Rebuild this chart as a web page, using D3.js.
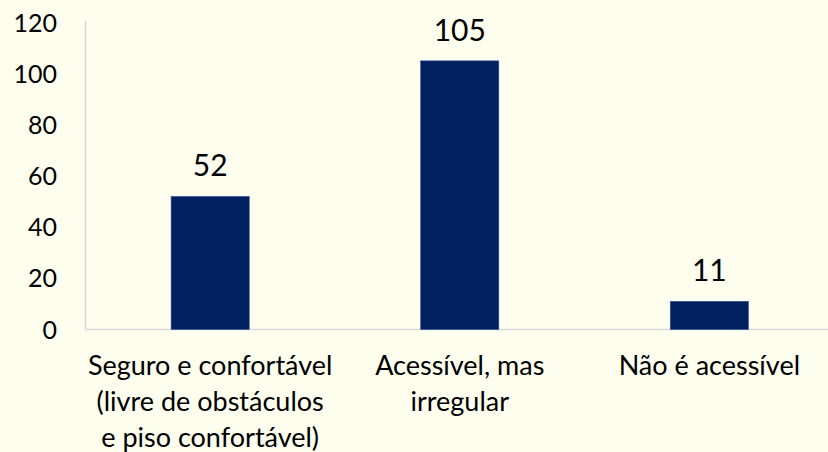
<!DOCTYPE html>
<html>
<head>
<meta charset="utf-8">
<script src="https://cdn.jsdelivr.net/npm/d3@7/dist/d3.min.js"></script>
<style>
  html, body { margin: 0; padding: 0; background: #fefeee; }
  svg { display: block; font-family: Lato, "Open Sans", sans-serif; }
</style>
</head>
<body>
<svg id="chart" width="828" height="452"></svg>
<script>
// chart data
var categories = [
  ["Seguro e confortável", "(livre de obstáculos", "e piso confortável)"],
  ["Acessível, mas", "irregular"],
  ["Não é acessível"]
];
var values = [52, 105, 11];
var yTicks = [0, 20, 40, 60, 80, 100, 120];

var svg = d3.select('#chart');
var width = 828, height = 452;

var x = d3.scaleBand()
  .domain(d3.range(values.length))
  .range([85.5, 834])
  .paddingInner(0.687)
  .paddingOuter(0.343);

var y = d3.scaleLinear()
  .domain([0, 120])
  .range([329.5, 22.5]);

svg.append('rect')
  .attr('width', width)
  .attr('height', height)
  .attr('fill', '#fefeee');

// axis lines
svg.append('line')
  .attr('x1', 85.5).attr('x2', 85.5)
  .attr('y1', 20.5).attr('y2', y(0))
  .attr('stroke', '#d9d9d9')
  .attr('stroke-width', 1.5);

svg.append('line')
  .attr('x1', 85.5).attr('x2', width)
  .attr('y1', y(0)).attr('y2', y(0))
  .attr('stroke', '#d9d9d9')
  .attr('stroke-width', 1.5);

// y tick labels
svg.append('g')
  .selectAll('text')
  .data(yTicks)
  .enter()
  .append('text')
  .attr('x', 57)
  .attr('y', d => y(d))
  .attr('dy', '0.36em')
  .attr('text-anchor', 'end')
  .attr('font-size', 25)
  .attr('fill', '#000')
  .text(d => d);

// bars
svg.append('g')
  .selectAll('rect')
  .data(values)
  .enter()
  .append('rect')
  .attr('x', (d, i) => x(i))
  .attr('width', x.bandwidth())
  .attr('y', d => y(d))
  .attr('height', d => y(0) - y(d))
  .attr('fill', '#002060')
  .attr('stroke', '#2f4f8f')
  .attr('stroke-width', 0.6);

// data labels
svg.append('g')
  .selectAll('text')
  .data(values)
  .enter()
  .append('text')
  .attr('x', (d, i) => x(i) + x.bandwidth() / 2)
  .attr('y', d => y(d) - 20)
  .attr('text-anchor', 'middle')
  .attr('font-size', 30)
  .attr('fill', '#000')
  .text(d => d);

// category labels
var cat = svg.append('g')
  .selectAll('text')
  .data(categories)
  .enter()
  .append('text')
  .attr('x', (d, i) => x(i) + x.bandwidth() / 2)
  .attr('y', 375)
  .attr('text-anchor', 'middle')
  .attr('font-size', 27)
  .attr('fill', '#000');

cat.selectAll('tspan')
  .data(d => d)
  .enter()
  .append('tspan')
  .attr('x', function () { return d3.select(this.parentNode).attr('x'); })
  .attr('dy', (d, i) => i ? 36 : 0)
  .text(d => d);
</script>
</body>
</html>
